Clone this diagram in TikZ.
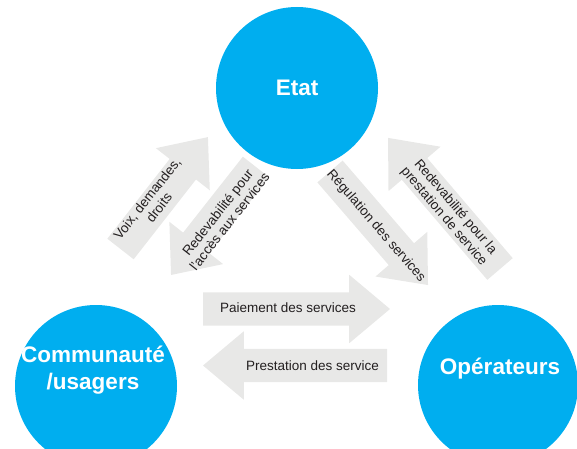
\documentclass[tikz,border=0pt]{standalone}
\usepackage{fontspec}
\setmainfont{Liberation Sans}
\usetikzlibrary{shapes.arrows,calc}
\definecolor{bleu}{RGB}{0,174,239}
\definecolor{grisfleche}{RGB}{232,232,231}
\definecolor{texte}{RGB}{35,31,32}
\newcommand{\petit}{\fontsize{13.5}{15}\selectfont}
\newcommand{\grand}{\fontsize{22.5}{27}\selectfont\bfseries}

\begin{document}
\begin{tikzpicture}[x=1pt,y=1pt,
    acteur/.style={circle,fill=bleu,minimum size=162pt,inner sep=0pt},
    nom/.style={text=white,font=\grand,align=center},
    fleche/.style={single arrow,fill=grisfleche,inner xsep=0pt,inner ysep=16.5pt,
      single arrow head extend=17.5pt,single arrow tip angle=80,outer sep=0pt,anchor=tail},
    legende/.style={text=texte,font=\petit,align=center,inner sep=0pt}]
  \useasboundingbox (0,0) rectangle (577,448);

  % les trois acteurs
  \node[acteur] (etat) at (297,360) {};
  \node[acteur] (comm) at (96,62) {};
  \node[acteur,minimum size=160pt] (oper) at (498,63) {};
  \node[nom] (etattxt) at (etat) {Etat};
  \node[nom] (commtxt) at ([xshift=-3pt,yshift=16pt]comm.center) {Communauté\\/usagers};
  \node[nom] (opertxt) at ([xshift=2pt,yshift=16pt]oper.center) {Opérateurs};

  % fleches
  \node[fleche,rotate=52,minimum height=142pt] (voix) at (120.5,199) {};
  \node[fleche,rotate=231.8,minimum height=137.4pt] (acces) at (256,281) {};
  \node[fleche,rotate=-49.2,minimum height=150pt] (regul) at (330,276.5) {};
  \node[fleche,rotate=130.5,minimum height=172.4pt] (redev) at (500,179) {};
  \node[fleche,minimum height=187pt] (paie) at (203,139) {};
  \node[fleche,rotate=180,minimum height=184pt] (prest) at (387,82.5) {};

  \node[legende,rotate=52] (voixtxt) at (153,245) {Voix, demandes,\\droits};
  \node[legende,rotate=51.8] (accestxt) at (223.5,231) {Redevabilité pour\\l'accès aux services};
  \node[legende,rotate=-49.2] (regultxt) at (376,222) {Régulation des services};
  \node[legende,rotate=-49.5] (redevtxt) at (449.5,236) {Redevabilité pour la\\prestation de service};
  \node[legende] (paietxt) at (288,140) {Paiement des services};
  \node[legende] (presttxt) at (312.5,82) {Prestation des service};
\end{tikzpicture}
\end{document}
